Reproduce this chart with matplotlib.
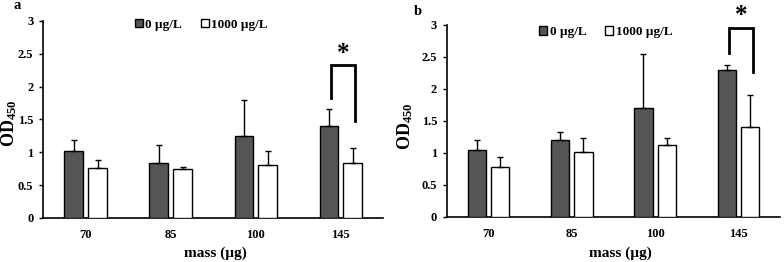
import numpy as np
import matplotlib
matplotlib.use("Agg")
import matplotlib.pyplot as plt

plt.rcParams['font.family'] = ['Liberation Serif', 'DejaVu Serif']
plt.rcParams['font.weight'] = 'bold'
plt.rcParams['mathtext.fontset'] = 'custom'
plt.rcParams['mathtext.rm'] = 'Liberation Serif:bold'
plt.rcParams['mathtext.it'] = 'Liberation Serif:bold'
plt.rcParams['mathtext.bf'] = 'Liberation Serif:bold'

masses = ['70', '85', '100', '145']
series_names = ['0 \u00b5g/L', '1000 \u00b5g/L']

# panel a
a_ctrl = [1.02, 0.84, 1.25, 1.40]
a_ctrl_err = [0.16, 0.27, 0.55, 0.26]
a_treat = [0.76, 0.74, 0.80, 0.84]
a_treat_err = [0.12, 0.03, 0.22, 0.22]

# panel b
b_ctrl = [1.05, 1.20, 1.70, 2.30]
b_ctrl_err = [0.15, 0.12, 0.85, 0.07]
b_treat = [0.78, 1.02, 1.12, 1.41]
b_treat_err = [0.15, 0.21, 0.12, 0.49]

# significance brackets: (top, left end, right end, star y)
a_bracket = [2.33, 1.83, 1.48, 2.50]
b_bracket = [2.95, 2.56, 2.27, 3.14]

fig = plt.figure(figsize=(7.84, 2.62), dpi=100)
ax_a = fig.add_axes([0.055, 0.168, 0.434, 0.752])
ax_b = fig.add_axes([0.570, 0.172, 0.425, 0.733])

dark = '#555555'


def draw_panel(ax, ctrl, ctrl_err, treat, treat_err, bracket, legend_xy, ylab_xy, xlab_xy):
    x = np.arange(len(masses))
    w = 0.22
    off = 0.14
    ekw = dict(ecolor='black', elinewidth=1.0, capsize=2.5, capthick=1.0)
    ax.bar(x - off, ctrl, w, color=dark, edgecolor='black', linewidth=1.0,
           yerr=[np.zeros(4), ctrl_err], error_kw=ekw, label=series_names[0], zorder=3)
    ax.bar(x + off, treat, w, color='white', edgecolor='black', linewidth=1.0,
           yerr=[np.zeros(4), treat_err], error_kw=ekw, label=series_names[1], zorder=3)

    ax.set_xlim(-0.5, 3.5)
    ax.set_ylim(0, 3)
    ax.set_yticks([0, 0.5, 1, 1.5, 2, 2.5, 3])
    ax.set_yticklabels(['0', '0.5', '1', '1.5', '2', '2.5', '3'])
    ax.set_xticks(x)
    ax.set_xticklabels(masses)
    ax.tick_params(axis='x', length=0, labelsize=9, pad=8)
    ax.tick_params(axis='y', length=3, width=1, labelsize=9, pad=4)
    for s in ['top', 'right']:
        ax.spines[s].set_visible(False)
    for s in ['left', 'bottom']:
        ax.spines[s].set_linewidth(1.2)

    ax.set_xlabel('mass (\u00b5g)', fontsize=11, fontweight='bold')
    ax.xaxis.set_label_coords(*xlab_xy)
    ax.set_ylabel('OD$_{450}$', fontsize=13, fontweight='bold')
    ax.yaxis.set_label_coords(*ylab_xy)

    # bracket
    top, lbot, rbot, stary = bracket
    xl = 3 - off + 0.03
    xr = 3 + off + 0.03
    ax.plot([xl, xl, xr, xr], [lbot, top, top, rbot], color='black', lw=2.0,
            clip_on=False, solid_joinstyle='miter', zorder=4)
    ax.text((xl + xr) / 2, stary, '*', ha='center', va='center', fontsize=18,
            fontweight='bold', clip_on=False)

    leg = ax.legend(loc='center', bbox_to_anchor=legend_xy, ncol=2, frameon=False,
                    fontsize=9.5, handlelength=0.6, handleheight=0.6, handletextpad=0.2,
                    columnspacing=1.4, borderaxespad=0)
    for t in leg.get_texts():
        t.set_fontweight('bold')


draw_panel(ax_a, a_ctrl, a_ctrl_err, a_treat, a_treat_err, a_bracket,
           (0.465, 0.98), (-0.071, 0.48), (0.506, -0.147))
draw_panel(ax_b, b_ctrl, b_ctrl_err, b_treat, b_treat_err, b_bracket,
           (0.477, 0.963), (-0.096, 0.47), (0.52, -0.156))

fig.text(13 / 784, 1 - 9 / 262, 'a', fontsize=10.5, fontweight='bold', ha='left', va='baseline')
fig.text(414 / 784, 1 - 15 / 262, 'b', fontsize=10.5, fontweight='bold', ha='left', va='baseline')

fig.savefig('out.png', dpi=100)
